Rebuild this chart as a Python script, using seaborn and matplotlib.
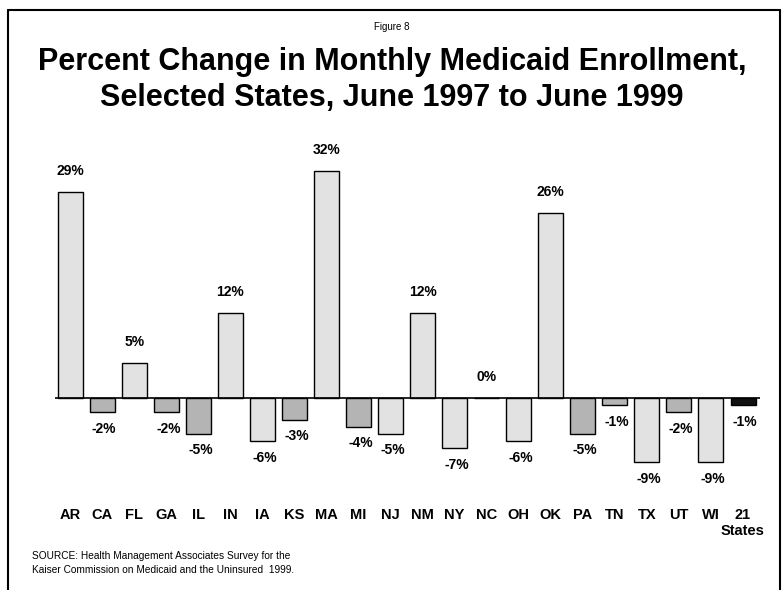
import matplotlib
matplotlib.use("Agg")
import matplotlib.pyplot as plt
import seaborn as sns
import pandas as pd
from matplotlib.lines import Line2D

states = ["AR", "CA", "FL", "GA", "IL", "IN", "IA", "KS", "MA", "MI", "NJ",
          "NM", "NY", "NC", "OH", "OK", "PA", "TN", "TX", "UT", "WI", "21\nStates"]
pct_change = [29, -2, 5, -2, -5, 12, -6, -3, 32, -4, -5,
              12, -7, 0, -6, 26, -5, -1, -9, -2, -9, -1]
value_labels = ["29%", "-2%", "5%", "-2%", "-5%", "12%", "-6%", "-3%", "32%", "-4%", "-5%",
                "12%", "-7%", "0%", "-6%", "26%", "-5%", "-1%", "-9%", "-2%", "-9%", "-1%"]
dark_states = ["CA", "GA", "IL", "KS", "MI", "PA", "TN", "UT"]

sns.set_theme(style="white")
plt.rcParams["font.family"] = ["Liberation Sans", "DejaVu Sans"]
plt.rcParams["text.color"] = "black"
plt.rcParams["xtick.color"] = "black"
plt.rcParams["xtick.labelcolor"] = "black"

df = pd.DataFrame({"state": states, "pct": pct_change})
palette = {}
for s in states:
    if s.startswith("21"):
        palette[s] = "#111111"
    elif s in dark_states:
        palette[s] = "#b4b4b4"
    else:
        palette[s] = "#e2e2e2"

fig = plt.figure(figsize=(7.84, 5.90), dpi=100)
ax = fig.add_axes([55 / 784, 110 / 590, 705 / 784, 330 / 590])

sns.barplot(data=df, x="state", y="pct", hue="state", palette=palette,
            legend=False, width=0.78, edgecolor="black", linewidth=1.0,
            saturation=1, ax=ax)

ax.set_xlim(-0.47, 21.53)
ax.set_ylim(-11.5, 34.9)
ax.axhline(0, color="black", linewidth=1.2)
for sp in ax.spines.values():
    sp.set_visible(False)
ax.set_yticks([])
ax.set_xlabel("")
ax.set_ylabel("")
ax.tick_params(axis="x", length=0, pad=20)
for lbl in ax.get_xticklabels():
    lbl.set_fontweight("bold")
    lbl.set_fontsize(10.5)
    lbl.set_color("black")
    lbl.set_verticalalignment("top")
    lbl.set_horizontalalignment("center")
    lbl.set_multialignment("center")
    lbl.set_linespacing(1.2)

for i, (v, t) in enumerate(zip(pct_change, value_labels)):
    if v >= 0:
        ax.annotate(t, (i, v), xytext=(0, 10), textcoords="offset points",
                    ha="center", va="bottom", fontsize=10, fontweight="bold", color="black")
    else:
        ax.annotate(t, (i, v), xytext=(1.5, -7), textcoords="offset points",
                    ha="center", va="top", fontsize=10, fontweight="bold", color="black")

fig.text(0.5, 1 - 27 / 590, "Figure 8", ha="center", va="center", fontsize=7, color="black")
fig.text(0.5, 1 - 80 / 590,
         "Percent Change in Monthly Medicaid Enrollment,\nSelected States, June 1997 to June 1999",
         ha="center", va="center", fontsize=22, fontweight="bold", linespacing=1.25,
         color="black")
fig.text(32 / 784, 1 - 563 / 590,
         "SOURCE: Health Management Associates Survey for the\n"
         "Kaiser Commission on Medicaid and the Uninsured  1999.",
         ha="left", va="center", fontsize=7.3, linespacing=1.5, color="black")

for xs, ys in [([8, 8], [590, 10]), ([8, 780], [10, 10]), ([780, 780], [10, 590])]:
    fig.add_artist(Line2D([x / 784 for x in xs], [1 - y / 590 for y in ys],
                          color="black", linewidth=1.5, transform=fig.transFigure))

fig.savefig("out.png", dpi=100)
